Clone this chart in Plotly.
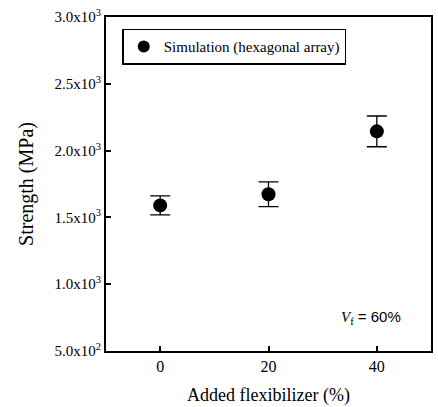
import plotly.graph_objects as go

# Strength of the composite vs. added flexibilizer content
flexibilizer = [0, 20, 40]
strength = [1590, 1673, 2144]
strength_err = [71, 93, 115]

y_ticks = [500, 1000, 1500, 2000, 2500, 3000]
y_tick_text = ["5.0x10<sup>2</sup>", "1.0x10<sup>3</sup>", "1.5x10<sup>3</sup>",
               "2.0x10<sup>3</sup>", "2.5x10<sup>3</sup>", "3.0x10<sup>3</sup>"]
x_ticks = [0, 20, 40]

serif = "Liberation Serif, Times New Roman, serif"

fig = go.Figure()
fig.add_trace(go.Scatter(
    x=flexibilizer, y=strength,
    mode="markers",
    name="Simulation (hexagonal array)",
    marker=dict(size=14, color="black", symbol="circle"),
    error_y=dict(type="data", array=strength_err, visible=True,
                 color="black", thickness=1.3, width=10),
))

fig.update_layout(
    width=438, height=407,
    margin=dict(l=106, r=5, t=17, b=56),
    paper_bgcolor="white", plot_bgcolor="white",
    font=dict(family=serif, color="black", size=14),
    showlegend=True,
    legend=dict(
        x=0.05, y=0.965, xanchor="left", yanchor="top",
        bordercolor="black", borderwidth=1.5, bgcolor="white",
        font=dict(family=serif, size=15),
        itemsizing="constant",
    ),
    xaxis=dict(
        range=[-10, 50], tickvals=x_ticks, ticks="inside", ticklen=5,
        tickwidth=1.5, tickcolor="black",
        showline=True, linewidth=2, linecolor="black", mirror=True,
        showgrid=False, zeroline=False,
        tickfont=dict(family=serif, size=16),
        title=dict(text="Added flexibilizer (%)", font=dict(family=serif, size=18), standoff=14),
    ),
    yaxis=dict(
        range=[500, 3000], tickvals=y_ticks, ticktext=y_tick_text,
        ticks="inside", ticklen=5, tickwidth=1.5, tickcolor="black",
        showline=True, linewidth=2, linecolor="black", mirror=True,
        showgrid=False, zeroline=False,
        tickfont=dict(family=serif, size=15),
        title=dict(text="Strength (MPa)", font=dict(family=serif, size=20), standoff=16),
    ),
)

fig.add_annotation(
    x=0.915, y=0.10, xref="paper", yref="paper", xanchor="right", yanchor="middle",
    text="<i>V</i><sub>f</sub><span style='font-family:Liberation Sans, Arial, sans-serif'> = 60%</span>",
    showarrow=False, font=dict(family=serif, size=15),
)

fig.write_html("out.html")
